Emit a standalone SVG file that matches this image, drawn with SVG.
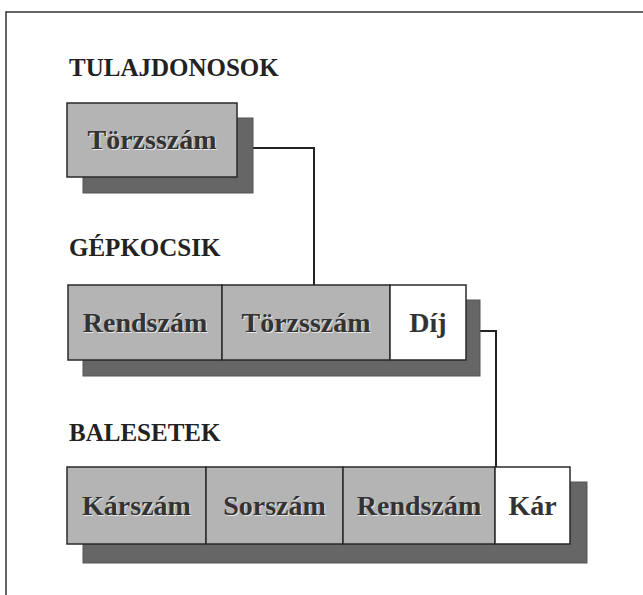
<svg xmlns="http://www.w3.org/2000/svg" width="643" height="595" viewBox="0 0 643 595">
  <style>
    .frame { fill: none; stroke: #333; stroke-width: 1.5; }
    .title { font-family: "Liberation Serif", "Times New Roman", serif; font-weight: bold; font-size: 25px; fill: #222; }
    .shadow { fill: #666666; stroke: #555; stroke-width: 1; }
    .key { fill: #b4b4b4; stroke: #2a2a2a; stroke-width: 1.5; }
    .plain { fill: #ffffff; stroke: #2a2a2a; stroke-width: 1.5; }
    .label { font-family: "Liberation Serif", "Times New Roman", serif; font-weight: bold; font-size: 28px; text-anchor: middle; }
    .label-hi { fill: #e6e6e6; }
    .label-fg { fill: #333; }
    .link { fill: none; stroke: #222; stroke-width: 2; }
  </style>

  <rect x="0" y="0" width="643" height="595" fill="#ffffff"/>
  <path class="frame" d="M6 595 V12 H643"/>

  <!-- table titles -->
  <text class="title" x="69" y="76">TULAJDONOSOK</text>
  <text class="title" x="69" y="256">GÉPKOCSIK</text>
  <text class="title" x="69" y="441">BALESETEK</text>

  <!-- relationships between tables -->
  <g id="connectors">
    <path class="link" d="M253 148 H314 V285"/>
    <path class="link" d="M480 331 H496 V467"/>
  </g>

  <!-- TULAJDONOSOK -->
  <g id="tulajdonosok">
    <rect class="shadow" x="83" y="118" width="170" height="75"/>
    <rect class="key" x="67" y="103" width="170" height="74"/>
    <text class="label label-hi" x="153" y="150">Törzsszám</text>
    <text class="label label-fg" x="152" y="149">Törzsszám</text>
  </g>

  <!-- GÉPKOCSIK -->
  <g id="gepkocsik">
    <rect class="shadow" x="83" y="300" width="397" height="76"/>
    <g id="gepkocsik-rendszam">
      <rect class="key" x="68" y="285" width="154" height="75"/>
      <text class="label label-hi" x="146" y="333">Rendszám</text>
      <text class="label label-fg" x="145" y="332">Rendszám</text>
    </g>
    <g id="gepkocsik-torzsszam">
      <rect class="key" x="222" y="285" width="168" height="75"/>
      <text class="label label-hi" x="307" y="333">Törzsszám</text>
      <text class="label label-fg" x="306" y="332">Törzsszám</text>
    </g>
    <g id="gepkocsik-dij">
      <rect class="plain" x="390" y="285" width="76" height="75"/>
      <text class="label label-fg" x="428" y="332">Díj</text>
    </g>
  </g>

  <!-- BALESETEK -->
  <g id="balesetek">
    <rect class="shadow" x="83" y="482" width="504" height="81"/>
    <g id="balesetek-karszam">
      <rect class="key" x="67" y="467" width="139" height="77"/>
      <text class="label label-hi" x="137.5" y="516">Kárszám</text>
      <text class="label label-fg" x="136.5" y="515">Kárszám</text>
    </g>
    <g id="balesetek-sorszam">
      <rect class="key" x="206" y="467" width="137" height="77"/>
      <text class="label label-hi" x="275.5" y="516">Sorszám</text>
      <text class="label label-fg" x="274.5" y="515">Sorszám</text>
    </g>
    <g id="balesetek-rendszam">
      <rect class="key" x="343" y="467" width="152" height="77"/>
      <text class="label label-hi" x="420" y="516">Rendszám</text>
      <text class="label label-fg" x="419" y="515">Rendszám</text>
    </g>
    <g id="balesetek-kar">
      <rect class="plain" x="495" y="467" width="75" height="77"/>
      <text class="label label-fg" x="532.5" y="515">Kár</text>
    </g>
  </g>
</svg>
